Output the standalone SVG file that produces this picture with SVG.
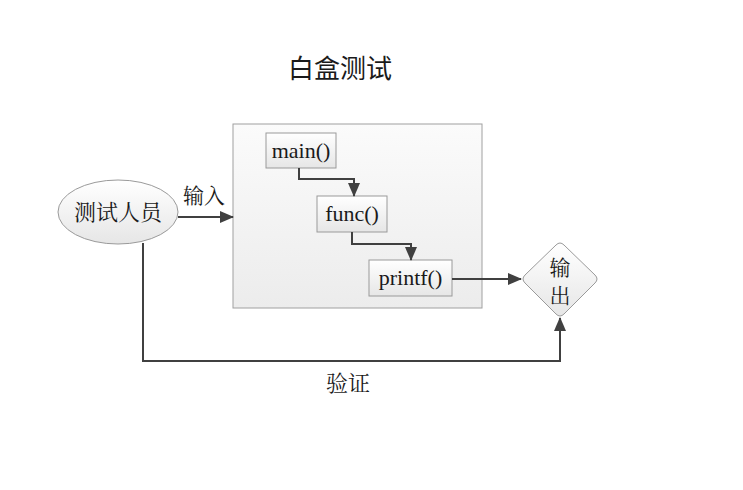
<svg xmlns="http://www.w3.org/2000/svg" width="743" height="490" viewBox="0 0 743 490">
<style>
.serif{font-family:"Liberation Serif","Noto Serif CJK SC","Noto Sans CJK SC",serif;fill:#1a1a1a}
.cjk{font-family:"Noto Sans CJK SC",sans-serif;fill:#1a1a1a}
.box{fill:url(#g1);stroke:#9a9a9a;stroke-width:1}
.conn{fill:none;stroke:#404040;stroke-width:2}
</style>
<defs>
<linearGradient id="g1" x1="0" y1="0" x2="0" y2="1"><stop offset="0" stop-color="#ffffff"/><stop offset="1" stop-color="#e6e6e6"/></linearGradient>
<linearGradient id="g2" x1="0" y1="0" x2="0" y2="1"><stop offset="0" stop-color="#fbfbfb"/><stop offset="1" stop-color="#ececec"/></linearGradient>
<marker id="ah" markerWidth="14" markerHeight="12" refX="13" refY="6" orient="auto" markerUnits="userSpaceOnUse"><path d="M0,0 L14,6 L0,12 Z" fill="#404040"/></marker>
</defs>
<rect width="743" height="490" fill="#ffffff"/>
<text class="cjk" x="340" y="78" font-size="26" text-anchor="middle">白盒测试</text>
<g id="container"><rect x="233" y="124" width="249" height="184" fill="url(#g2)" stroke="#a0a0a0" stroke-width="1"/></g>
<g id="tester"><ellipse cx="118" cy="212" rx="60" ry="32" fill="url(#g1)" stroke="#9a9a9a"/><text class="serif" x="118" y="220" font-size="22" text-anchor="middle">测试人员</text></g>
<g id="main"><rect class="box" x="266" y="133" width="70" height="35"/><text class="serif" x="301" y="158" font-size="22" text-anchor="middle">main()</text></g>
<g id="func"><rect class="box" x="317" y="196" width="70" height="36"/><text class="serif" x="352" y="221" font-size="22" text-anchor="middle">func()</text></g>
<g id="printf"><rect class="box" x="369" y="260" width="83" height="36"/><text class="serif" x="410.5" y="285" font-size="22" text-anchor="middle">printf()</text></g>
<g id="output"><path d="M556,245 Q560,241 564,245 L595,275 Q599,279 595,283 L564,314 Q560,318 556,314 L525,283 Q521,279 525,275 Z" fill="url(#g1)" stroke="#9a9a9a"/><text class="serif" x="560" y="275" font-size="21" text-anchor="middle">输</text><text class="serif" x="560" y="303" font-size="21" text-anchor="middle">出</text></g>
<g id="connectors">
<path class="conn" d="M178,217 L233,217" marker-end="url(#ah)"/>
<path class="conn" d="M299,168 L299,179 L354,179 L354,196" marker-end="url(#ah)"/>
<path class="conn" d="M352,232 L352,244 L411,244 L411,260" marker-end="url(#ah)"/>
<path class="conn" d="M452,279 L521,279" marker-end="url(#ah)"/>
<path class="conn" d="M143,243 L143,361 L560,361 L560,318" marker-end="url(#ah)"/>
<text class="serif" x="204" y="203" font-size="21" text-anchor="middle">输入</text>
<text class="serif" x="348" y="391" font-size="22" text-anchor="middle">验证</text>
</g>
</svg>
